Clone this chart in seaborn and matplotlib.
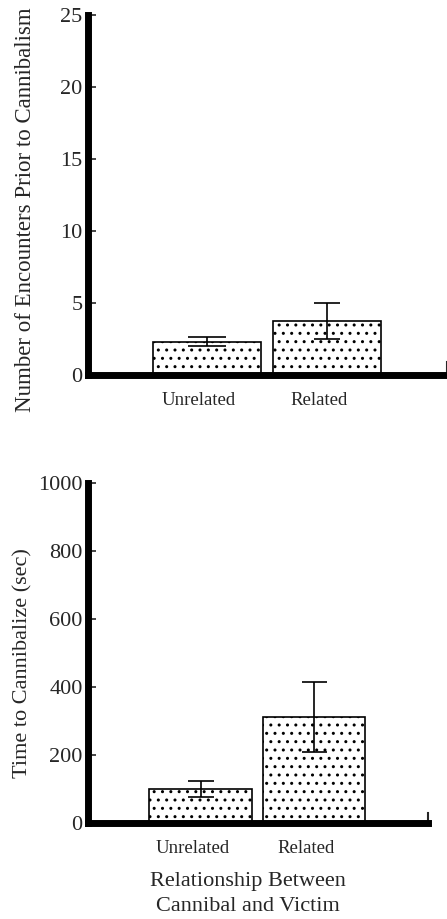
import matplotlib
matplotlib.use("Agg")
import matplotlib.pyplot as plt
import matplotlib.transforms as mtransforms
import seaborn as sns

# data (mean +/- SE)
groups = ['Unrelated', 'Related']
encounters = [2.3, 3.75]
encounters_se = [0.3, 1.25]
time_sec = [100, 312]
time_se = [24, 103]

sns.set_style('ticks')
plt.rcParams['font.family'] = ['Liberation Serif', 'DejaVu Serif']
plt.rcParams['hatch.linewidth'] = 1.0
plt.rcParams['hatch.color'] = 'black'

fig = plt.figure(figsize=(4.47, 9.19), dpi=100)
ax1 = fig.add_axes([0.197, 0.592, 0.803, 0.392])
ax2 = fig.add_axes([0.197, 0.1045, 0.76, 0.3695])

tick_size = 16
cat_size = 13.5


def style(ax, ymax, step, ylab, tick_h, ylab_size):
    ax.set_xlim(-0.99, 2.0)
    ax.set_ylim(0, ymax)
    ax.set_yticks(range(0, ymax + 1, step))
    for s in ['left', 'bottom']:
        ax.spines[s].set_linewidth(5)
        ax.spines[s].set_color('black')
    ax.spines['top'].set_visible(False)
    ax.spines['right'].set_linewidth(1.5)
    ax.spines['right'].set_bounds(0, tick_h)
    ax.tick_params(axis='y', direction='in', length=6, width=1.2,
                   labelsize=tick_size, pad=4)
    ax.tick_params(axis='x', length=0, labelsize=cat_size, pad=12)
    shift = mtransforms.ScaledTranslation(-8 / 100, 0, fig.dpi_scale_trans)
    for lab in ax.get_xticklabels():
        lab.set_transform(lab.get_transform() + shift)
    ax.set_xlabel('')
    ax.set_ylabel(ylab, fontsize=ylab_size)


def bars(ax, vals, errs, caps):
    sns.barplot(x=groups, y=vals, ax=ax, color='white', edgecolor='black',
                linewidth=1.2, width=0.9, hatch='..', errorbar=None,
                saturation=1)
    for i, (v, e, c) in enumerate(zip(vals, errs, caps)):
        ax.errorbar(i, v, yerr=e, fmt='none', ecolor='black', elinewidth=1.2,
                    capsize=c, capthick=1.2)


bars(ax1, encounters, encounters_se, [13.5, 9.7])
style(ax1, 25, 5, 'Number of Encounters Prior to Cannibalism', 0.9, 16.5)
ax1.yaxis.set_label_coords(-0.145, 0.46)

bars(ax2, time_sec, time_se, [9.5, 9.0])
style(ax2, 1000, 200, 'Time to Cannibalize (sec)', 30, 16)
ax2.yaxis.set_label_coords(-0.165, 0.47)
ax2.set_xlabel('Relationship Between\nCannibal and Victim', fontsize=16,
               linespacing=1.4)
ax2.xaxis.label.set_va('top')
ax2.xaxis.set_label_coords(0.47, -0.145)

fig.savefig('out.png', dpi=100)
